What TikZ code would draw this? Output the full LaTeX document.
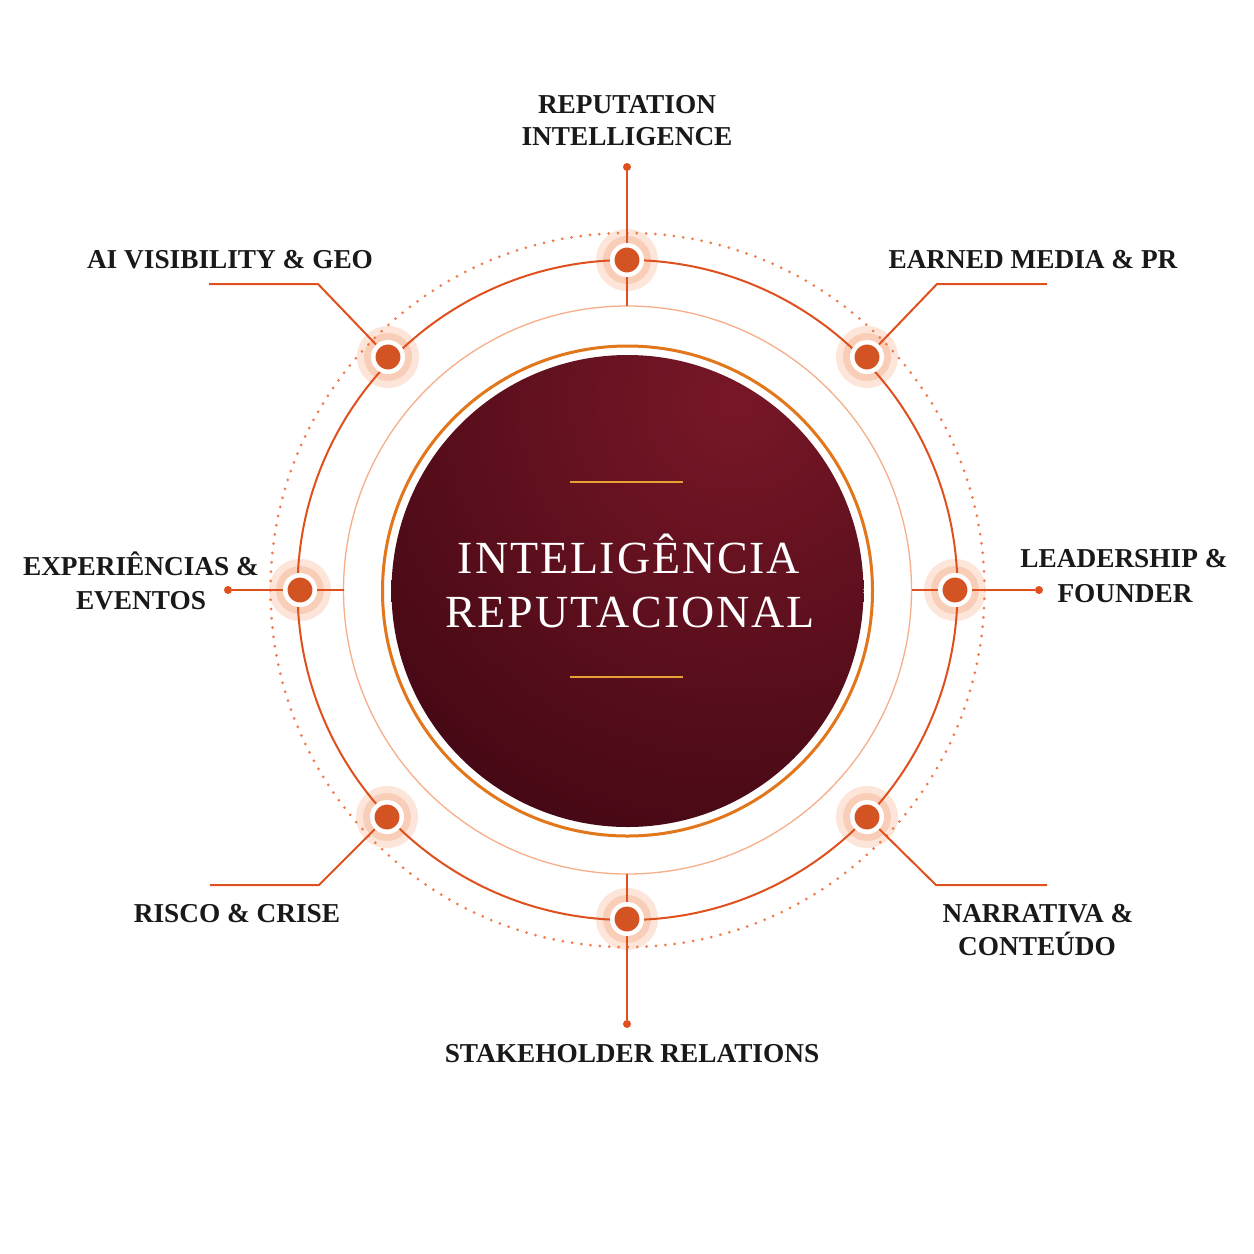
\documentclass[tikz,border=0pt]{standalone}
\usepackage{fontspec}
\setmainfont{Liberation Serif}
\newfontfamily\ctrfont[LetterSpace=4]{Liberation Serif}
\pgfdeclarelayer{glowlayer}
\pgfdeclarelayer{linelayer}
\pgfsetlayers{glowlayer,linelayer,main}
\definecolor{lineOr}{HTML}{E0501F}
\definecolor{dotOr}{HTML}{F07A48}
\definecolor{lightOr}{HTML}{F7AE8A}
\definecolor{ringOr}{HTML}{E2761A}
\definecolor{nodeOr}{HTML}{D35322}
\definecolor{glowA}{HTML}{FDE5D9}
\definecolor{glowB}{HTML}{F9CEB8}
\definecolor{goldLn}{HTML}{E8A135}
\definecolor{diskHi}{HTML}{781727}
\definecolor{diskLo}{HTML}{3A0510}
\tikzset{
  hub/.style={circle, fill=nodeOr, draw=white, line width=4.5pt, minimum size=29.5pt, inner sep=0pt},
  enddot/.style={circle, fill=lineOr, minimum size=8pt, inner sep=0pt},
  lbl/.style={font=\bfseries\fontsize{27.3}{32}\selectfont, text=black!90, inner sep=0pt, anchor=base},
  ctr/.style={font=\ctrfont\fontsize{46}{54}\selectfont, text=white, inner sep=0pt, anchor=base},
  conn/.style={draw=lineOr, line width=2pt},
}
\begin{document}
\begin{tikzpicture}[x=1pt,y=-1pt]
\useasboundingbox (0,0) rectangle (1254,1254);
\coordinate (C) at (627.5,590);

% hubs
\node[hub] (h1) at (627,260) {};
\node[hub] (h2) at (867,357) {};
\node[hub] (h3) at (955,590) {};
\node[hub] (h4) at (867,817) {};
\node[hub] (h5) at (627,919) {};
\node[hub] (h6) at (387,817) {};
\node[hub] (h7) at (300,590) {};
\node[hub] (h8) at (388,357) {};

% end dots
\node[enddot] (e1) at (627,167) {};
\node[enddot] (e3) at (1039,590) {};
\node[enddot] (e5) at (627,1024) {};
\node[enddot] (e7) at (228,590) {};

% free ends
\coordinate (i1) at (627,306);
\coordinate (i3) at (911.5,590);
\coordinate (i5) at (627,874);
\coordinate (i7) at (343.5,590);
\coordinate (k2) at (937,284); \coordinate (f2) at (1047,284);
\coordinate (k4) at (936,885); \coordinate (f4) at (1047,885);
\coordinate (k6) at (319,885); \coordinate (f6) at (210,885);
\coordinate (k8) at (318,284); \coordinate (f8) at (209,284);

\begin{pgfonlayer}{glowlayer}
  \fill[white] (0,0) rectangle (1254,1254);
  \foreach \h in {h1,h2,h3,h4,h5,h6,h7,h8}{
    \fill[glowA] (\h) circle (31pt);
    \fill[glowB] (\h) circle (24pt);
  }
\end{pgfonlayer}

\begin{pgfonlayer}{linelayer}
  % rings
  \draw[dotOr, line width=3pt, line cap=round, dash pattern=on 0pt off 9.35pt] (C) circle (357pt);
  \draw[lineOr, line width=2pt] (C) circle (330pt);
  \draw[lightOr, line width=1.3pt] (C) circle (284pt);
  % disk
  \draw[ringOr, line width=3pt] (627.5,591) circle (245pt);
  \begin{scope}
    \clip (627.5,591) circle (236pt);
    \shade[inner color=diskHi, outer color=diskLo] (735,400) circle (560pt);
  \end{scope}
  \draw[goldLn, line width=2pt] (570,482) -- (683,482);
  \draw[goldLn, line width=2pt] (570,677) -- (683,677);
  % connectors
  \draw[conn] (i1) -- (h1);
  \draw[conn] (h1) -- (e1);
  \draw[conn] (i3) -- (h3);
  \draw[conn] (h3) -- (e3);
  \draw[conn] (i5) -- (h5);
  \draw[conn] (h5) -- (e5);
  \draw[conn] (i7) -- (h7);
  \draw[conn] (h7) -- (e7);
  \draw[conn] (h2) -- (k2) -- (f2);
  \draw[conn] (h4) -- (k4) -- (f4);
  \draw[conn] (h6) -- (k6) -- (f6);
  \draw[conn] (h8) -- (k8) -- (f8);
\end{pgfonlayer}

% centre text
\node[ctr] (c1) at (629,573) {INTELIGÊNCIA};
\node[ctr] (c2) at (630,627) {REPUTACIONAL};

% labels
\node[lbl] (l1a) at (627,113) {REPUTATION};
\node[lbl] (l1b) at (627,145) {INTELLIGENCE};
\node[lbl] (l2) at (1033,268) {EARNED MEDIA \& PR};
\node[lbl] (l3a) at (1124,567) {LEADERSHIP \&};
\node[lbl] (l3b) at (1125,602) {FOUNDER};
\node[lbl] (l4a) at (1038,922) {NARRATIVA \&};
\node[lbl] (l4b) at (1037,955) {CONTEÚDO};
\node[lbl] (l5) at (632,1062) {STAKEHOLDER RELATIONS};
\node[lbl] (l6) at (237,922) {RISCO \& CRISE};
\node[lbl] (l7a) at (141,575) {EXPERIÊNCIAS \&};
\node[lbl] (l7b) at (141,609) {EVENTOS};
\node[lbl] (l8) at (230,268) {AI VISIBILITY \& GEO};
\end{tikzpicture}
\end{document}
